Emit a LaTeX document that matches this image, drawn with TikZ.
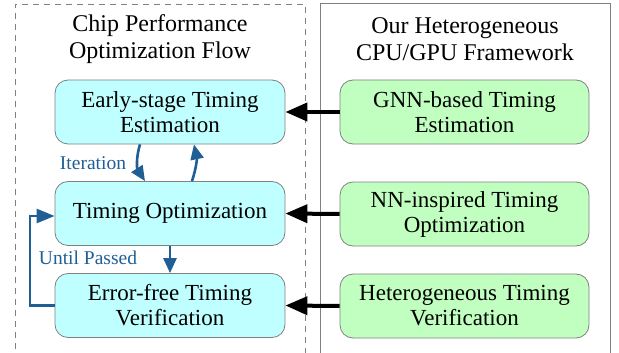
\documentclass[tikz,border=0pt]{standalone}
\usepackage{fontspec}
\setmainfont{Liberation Serif}
\usetikzlibrary{arrows.meta}
\definecolor{flowblue}{RGB}{31,95,150}
\definecolor{cyanfill}{RGB}{192,255,255}
\definecolor{greenfill}{RGB}{192,255,192}
\definecolor{boxgray}{RGB}{128,128,128}
\begin{document}
\begin{tikzpicture}[x=1pt,y=-1pt,
  base/.style={draw=boxgray, line width=0.8pt, rounded corners=13pt, minimum width=230pt, minimum height=64pt, align=center, font=\fontsize{23}{25}\selectfont, inner sep=0pt},
  flowbox/.style={base, fill=cyanfill},
  fwbox/.style={base, fill=greenfill, minimum width=249pt},
  title/.style={align=center, font=\fontsize{24}{27}\selectfont},
  blk/.style={line width=4pt, -{Triangle[length=22pt,width=18pt]}},
  blu/.style={draw=flowblue, line width=2.6pt, -{Triangle[length=15pt,width=13pt]}},
  lbl/.style={text=flowblue, font=\fontsize{19.5}{21}\selectfont}
]
\useasboundingbox (0,0) rectangle (619,353);
\draw[boxgray, line width=0.9pt, dash pattern=on 6pt off 5pt] (15,360) -- (15,4) -- (305,4) -- (305,360);
\draw[boxgray, line width=0.9pt] (320,360) -- (320,3) -- (610,3) -- (610,360);
\node[title] (t1) at (160,39) {Chip Performance\\Optimization Flow};
\node[title] (t2) at (465,39) {Our Heterogeneous\\CPU/GPU Framework};
\node[flowbox] (a) at (170,112) {Early-stage Timing\\Estimation};
\node[flowbox] (b) at (170,213.5) {Timing Optimization};
\node[flowbox] (c) at (170,305.5) {Error-free Timing\\Verification};
\node[fwbox] (d) at (464.5,112) {GNN-based Timing\\Estimation};
\node[fwbox] (e) at (464.5,214) {NN-inspired Timing\\Optimization};
\node[fwbox] (f) at (464.5,306) {Heterogeneous Timing\\Verification};
\draw[blk] (d.west) -- (a.east);
\draw[blk] (e.west) -- (b.east);
\draw[blk] (f.west) -- (c.east);
\coordinate (a1) at (a.south -| 140,0);
\coordinate (b1) at (b.north -| 145,0);
\coordinate (b2) at (b.north -| 192,0);
\coordinate (a2) at (a.south -| 194,0);
\draw[blu] (a1) to[bend right=25] (b1);
\draw[blu] (b2) to[bend right=15] (a2);
\draw[blu] (b.south) -- (c.north);
\coordinate (lc) at (30,0);
\coordinate (ly) at (0,216);
\draw[blu, -{Triangle[length=18pt,width=14pt]}] (c.west) -- (c.west -| lc) -- (lc |- ly) -- (b.west |- ly);
\node[lbl] (it) at (93,163) {Iteration};
\node[lbl] (up) at (88,258) {Until Passed};
\end{tikzpicture}
\end{document}
